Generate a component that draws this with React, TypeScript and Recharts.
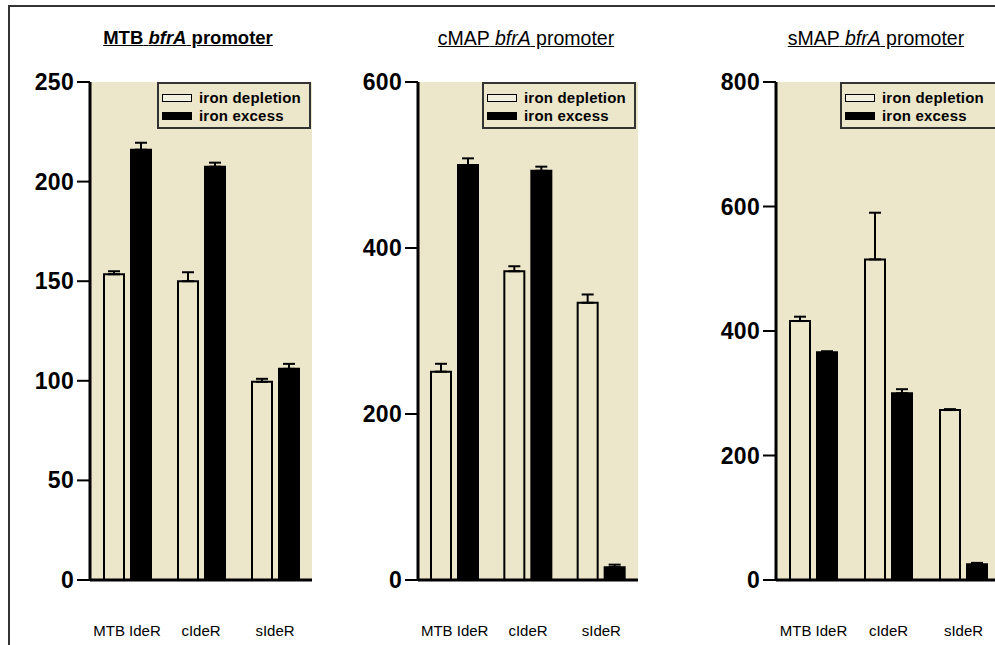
import React from 'react';
import { BarChart, Bar, XAxis, YAxis, CartesianGrid, ErrorBar, Legend } from 'recharts';

const categories = ['MTB IdeR', 'cIdeR', 'sIdeR'];

// MTB bfrA promoter
const mtbDepletion = [153.5, 150, 99.5];
const mtbDepletionErr = [1.5, 4.5, 1.5];
const mtbExcess = [216, 207.5, 106];
const mtbExcessErr = [3.5, 2, 2.5];
const mtbTicks = [0, 50, 100, 150, 200, 250];

// cMAP bfrA promoter
const cmapDepletion = [251, 372, 334];
const cmapDepletionErr = [9.5, 6, 10];
const cmapExcess = [500, 493, 15.5];
const cmapExcessErr = [8, 5, 3];
const cmapTicks = [0, 200, 400, 600];

// sMAP bfrA promoter
const smapDepletion = [416, 515, 273];
const smapDepletionErr = [7, 75, 1.5];
const smapExcess = [366, 300, 25.5];
const smapExcessErr = [1.5, 6.5, 2];
const smapTicks = [0, 200, 400, 600, 800];

const BEIGE = '#ECE6CA';

const buildRows = (dep: number[], depErr: number[], exc: number[], excErr: number[]) =>
  categories.map((name, i) => ({
    name,
    depletion: dep[i],
    depletionErr: [0, depErr[i]],
    excess: exc[i],
    excessErr: [0, excErr[i]],
  }));

const YTick = ({ x, y, payload }: any) => (
  <text x={x} y={y} dy={8} textAnchor="end" fontFamily="Arial, 'Liberation Sans'" fontWeight="bold" fontSize={23} letterSpacing={0.3} fill="#000">
    {payload.value}
  </text>
);

const XTick = ({ x, y, payload }: any) => (
  <text x={x} y={y} dy={56} textAnchor="middle" fontFamily="Arial, 'Liberation Sans'" fontSize={15} fill="#000">
    {payload.value}
  </text>
);

const LegendBox = () => (
  <div style={{ position: 'relative', width: '100%', height: '100%', boxSizing: 'border-box', border: '2px solid #333', background: BEIGE, fontFamily: "Arial, 'Liberation Sans'", fontWeight: 'bold', fontSize: 15 }}>
    {[
      { label: 'iron depletion', fill: '#F4F0DE', top: 5 },
      { label: 'iron excess', fill: '#000', top: 23 },
    ].map((it) => (
      <div key={it.label} style={{ position: 'absolute', left: 3, top: it.top, display: 'flex', alignItems: 'center', height: 18 }}>
        <div style={{ width: 30, height: 8, boxSizing: 'border-box', border: '1.5px solid #000', background: it.fill }} />
        <span style={{ marginLeft: 7, lineHeight: '18px', whiteSpace: 'nowrap', letterSpacing: 0.2 }}>{it.label}</span>
      </div>
    ))}
  </div>
);

interface PanelProps {
  prefix: string;
  bold: boolean;
  titleCenter: number;
  left: number;
  axisWidth: number;
  plotWidth: number;
  ticks: number[];
  legendLeft: number;
  legendWidth: number;
  data: any[];
}

function Panel({ prefix, bold, titleCenter, left, axisWidth, plotWidth, ticks, legendLeft, legendWidth, data }: PanelProps) {
  return (
    <>
      <div style={{ position: 'absolute', left: titleCenter - 150, width: 300, top: 28, textAlign: 'center', fontFamily: "Arial, 'Liberation Sans'", fontSize: bold ? 18.5 : 19.5, fontWeight: bold ? 'bold' : 'normal', lineHeight: '20px' }}>
        <u>{prefix} <i>bfrA</i> promoter</u>
      </div>
      <div style={{ position: 'absolute', left, top: 0 }}>
        <BarChart
          width={axisWidth + plotWidth}
          height={645}
          data={data}
          margin={{ top: 82, right: 0, bottom: 0, left: 0 }}
          barSize={20}
          barGap={7}
        >
          <CartesianGrid fill={BEIGE} stroke="none" horizontal={false} vertical={false} />
          <XAxis dataKey="name" height={65} axisLine={{ stroke: '#000', strokeWidth: 3 }} tickLine={false} tickSize={0} tickMargin={0} tick={<XTick />} interval={0} />
          <YAxis
            width={axisWidth}
            domain={[0, ticks[ticks.length - 1]]}
            ticks={ticks}
            allowDataOverflow
            axisLine={{ stroke: '#000', strokeWidth: 3 }}
            tickLine={{ stroke: '#000', strokeWidth: 2 }}
            tickSize={13}
            tickMargin={3}
            tick={<YTick />}
          />
          <Legend
            layout="horizontal"
            verticalAlign="middle"
            align="center"
            wrapperStyle={{ left: legendLeft, top: 82, width: legendWidth, height: 47 }}
            content={() => <LegendBox />}
          />
          <Bar dataKey="depletion" name="iron depletion" fill={BEIGE} stroke="#000" strokeWidth={2} isAnimationActive={false}>
            <ErrorBar dataKey="depletionErr" direction="y" width={6} stroke="#000" strokeWidth={2} />
          </Bar>
          <Bar dataKey="excess" name="iron excess" fill="#000" stroke="#000" strokeWidth={2} isAnimationActive={false}>
            <ErrorBar dataKey="excessErr" direction="y" width={6} stroke="#000" strokeWidth={2} />
          </Bar>
        </BarChart>
      </div>
    </>
  );
}

export default function App() {
  return (
    <div style={{ position: 'absolute', left: 0, top: 0, width: 995, height: 645, overflow: 'hidden', background: '#fff' }}>
      <div style={{ position: 'absolute', left: 8, top: 5, width: 1100, height: 800, border: '2px solid #333' }} />
      <Panel prefix="MTB" bold titleCenter={188} left={0} axisWidth={90} plotWidth={222} ticks={mtbTicks} legendLeft={157} legendWidth={154}
        data={buildRows(mtbDepletion, mtbDepletionErr, mtbExcess, mtbExcessErr)} />
      <Panel prefix="cMAP" bold={false} titleCenter={526} left={330} axisWidth={88} plotWidth={220} ticks={cmapTicks} legendLeft={152} legendWidth={154}
        data={buildRows(cmapDepletion, cmapDepletionErr, cmapExcess, cmapExcessErr)} />
      <Panel prefix="sMAP" bold={false} titleCenter={876} left={680} axisWidth={96} plotWidth={225} ticks={smapTicks} legendLeft={160} legendWidth={170}
        data={buildRows(smapDepletion, smapDepletionErr, smapExcess, smapExcessErr)} />
    </div>
  );
}
